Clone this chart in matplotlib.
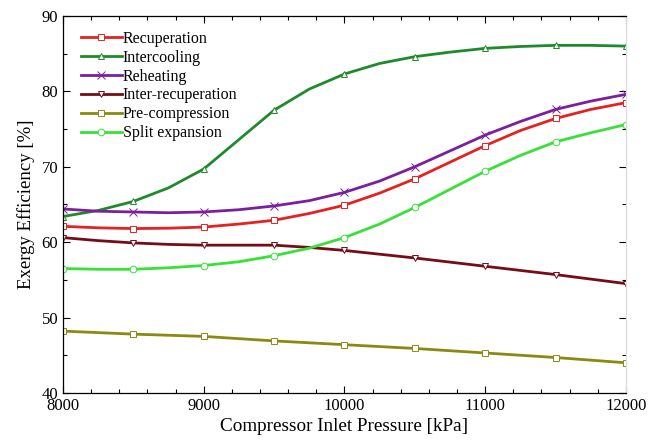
import numpy as np
import matplotlib
matplotlib.use("Agg")
import matplotlib.pyplot as plt
from matplotlib.ticker import MultipleLocator

plt.rcParams["font.family"] = ["Liberation Serif", "DejaVu Serif"]

# Marker positions (kPa)
p_mark = [8000, 8500, 9000, 9500, 10000, 10500, 11000, 11500, 12000]
# Denser readings used for the line itself (kPa)
p_line = [8000, 8250, 8500, 8750, 9000, 9250, 9500, 9750, 10000, 10250,
          10500, 10750, 11000, 11250, 11500, 11750, 12000]

# Exergy efficiency [%] at p_line
recuperation = [62.1, 61.9, 61.8, 61.85, 62.0, 62.4, 62.9, 63.8, 64.9, 66.5,
                68.4, 70.6, 72.8, 74.8, 76.4, 77.6, 78.5]
intercooling = [63.4, 64.2, 65.4, 67.2, 69.7, 73.6, 77.5, 80.3, 82.3, 83.7,
                84.6, 85.2, 85.7, 85.95, 86.1, 86.1, 86.0]
reheating = [64.4, 64.1, 64.0, 63.9, 64.0, 64.3, 64.8, 65.5, 66.6, 68.1,
             70.0, 72.1, 74.2, 76.0, 77.6, 78.7, 79.6]
inter_recuperation = [60.6, 60.2, 59.9, 59.7, 59.6, 59.6, 59.6, 59.3, 58.9, 58.4,
                      57.9, 57.35, 56.8, 56.25, 55.7, 55.1, 54.5]
pre_compression = [48.2, 48.0, 47.8, 47.65, 47.5, 47.2, 46.9, 46.65, 46.4, 46.15,
                   45.9, 45.6, 45.3, 45.0, 44.7, 44.35, 44.0]
split_expansion = [56.5, 56.4, 56.4, 56.6, 56.9, 57.4, 58.2, 59.2, 60.6, 62.4,
                   64.6, 67.0, 69.4, 71.5, 73.3, 74.5, 75.6]

series = [
    ("Recuperation", recuperation, "#e32222", "s"),
    ("Intercooling", intercooling, "#1f8a2b", "^"),
    ("Reheating", reheating, "#7b1f9c", "x"),
    ("Inter-recuperation", inter_recuperation, "#760c16", "v"),
    ("Pre-compression", pre_compression, "#8a8a12", "s"),
    ("Split expansion", split_expansion, "#38e038", "o"),
]

fig = plt.figure(figsize=(6.63, 4.43), dpi=100)
ax = fig.add_axes([0.095, 0.113, 0.849, 0.851])

step = p_line.index(8500) - p_line.index(8000)
for name, vals, col, mk in series:
    ms = 5.5 if mk == "x" else 4.8
    ax.plot(p_line, vals, color=col, linewidth=2, marker=mk, markevery=step,
            markersize=ms, markerfacecolor="white", markeredgecolor=col,
            markeredgewidth=0.7, label=name)

ax.set_xlim(8000, 12000)
ax.set_ylim(40, 90)
ax.xaxis.set_major_locator(MultipleLocator(1000))
ax.xaxis.set_minor_locator(MultipleLocator(200))
ax.yaxis.set_major_locator(MultipleLocator(10))
ax.yaxis.set_minor_locator(MultipleLocator(5))
ax.tick_params(which="both", direction="in", top=True, right=True, labelsize=12)
ax.tick_params(which="major", length=5, width=0.8)
ax.tick_params(which="minor", length=3, width=0.8)
for spine in ax.spines.values():
    spine.set_linewidth(0.9)
ax.spines["right"].set_color("#dcdcdc")

ax.set_xlabel("Compressor Inlet Pressure [kPa]", fontsize=13.8, labelpad=3)
ax.set_ylabel("Exergy Efficiency [%]", fontsize=13.5, labelpad=5)

ax.legend(loc="upper left", frameon=False, fontsize=11.5, handlelength=2.55,
          handletextpad=0.08, labelspacing=0.18, numpoints=1,
          bbox_to_anchor=(0.016, 0.984), borderaxespad=0.15)

fig.savefig("out.png", dpi=100)
